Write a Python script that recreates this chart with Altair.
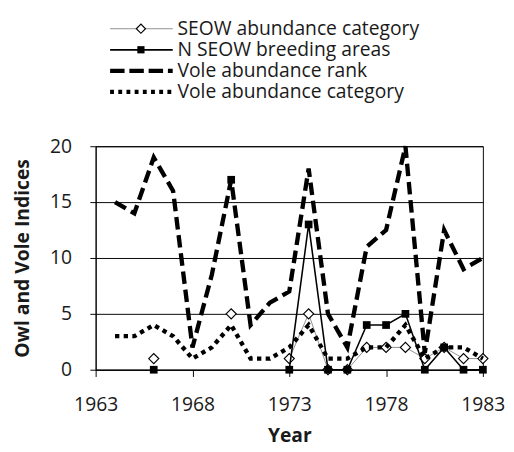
import altair as alt
import pandas as pd

# ---- data ----
years = list(range(1963, 1984))
seow_cat = [None, None, None, 1, None, None, None, 5, None, None, 1, 5, 0, 0, 2, 2, 2, 1, 2, 1, 1]
n_seow = [None, None, None, 0, None, None, None, 17, None, None, 0, 13, 0, 0, 4, 4, 5, 0, 2, 0, 0]
vole_rank = [None, 15, 14, 19, 16, 2, 8.5, 17, 4, 6, 7, 18, 5, 2, 11, 12.5, 20, 1.5, 12.5, 9, 10]
vole_cat = [None, 3, 3, 4, 3, 1, 2, 4, 1, 1, 2, 4, 1, 1, 2, 2, 4, 1, 2, 2, 1]
series_names = ["SEOW abundance category", "N SEOW breeding areas",
                "Vole abundance rank", "Vole abundance category"]
x_ticks = [1963, 1968, 1973, 1978, 1983]
y_ticks = [0, 5, 10, 15, 20]

FONT = "Open Sans"
TXT = "#1a1a1a"


def frame(vals):
    return pd.DataFrame({"year": years, "value": vals})


x = alt.X("year:Q",
          scale=alt.Scale(domain=[1963, 1983], nice=False, zero=False),
          axis=alt.Axis(values=x_ticks, format="d", title="Year", grid=False,
                        labelFlush=False, tickSize=7, labelPadding=19, titlePadding=13))
y = alt.Y("value:Q",
          scale=alt.Scale(domain=[0, 20], nice=False),
          axis=alt.Axis(values=y_ticks, title="Owl and Vole Indices", grid=True,
                        labelFlush=False, tickSize=6, labelPadding=19, titlePadding=18))

brk = "break-paths-filter-domains"

seow_line = alt.Chart(frame(seow_cat)).mark_line(
    color="#8c8c8c", strokeWidth=1, invalid=brk).encode(x=x, y=y)
seow_pts = alt.Chart(frame(seow_cat)).mark_point(
    shape="diamond", filled=True, fill="white", stroke="black",
    strokeWidth=1.2, size=110, opacity=1).encode(x=x, y=y)
nseow_line = alt.Chart(frame(n_seow)).mark_line(
    color="black", strokeWidth=1.6, invalid=brk).encode(x=x, y=y)
nseow_pts = alt.Chart(frame(n_seow)).mark_point(
    shape="square", filled=True, color="black", size=64, opacity=1).encode(x=x, y=y)
rank_line = alt.Chart(frame(vole_rank)).mark_line(
    color="black", strokeWidth=4.5, strokeDash=[13, 6], strokeCap="butt",
    invalid=brk).encode(x=x, y=y)
cat_line = alt.Chart(frame(vole_cat)).mark_line(
    color="black", strokeWidth=4.5, strokeDash=[4.5, 4.5], strokeCap="butt",
    invalid=brk).encode(x=x, y=y)

main = alt.layer(seow_line, seow_pts, nseow_line, nseow_pts, rank_line, cat_line).properties(
    width=402, height=232,
    view=alt.ViewBackground(stroke="black", strokeWidth=1))

# ---- legend panel ----
leg_df = pd.DataFrame({"name": series_names, "i": list(range(len(series_names)))})
ly = alt.Y("i:Q", scale=alt.Scale(domain=[0, 3], range=[12, 77.5]), axis=None)


def leg(k):
    return alt.Chart(leg_df).transform_filter(alt.datum.i == k)


leg_layers = [
    leg(0).mark_rule(color="#8c8c8c", strokeWidth=1).encode(
        x=alt.value(15), x2=alt.value(80), y=ly),
    leg(0).mark_point(shape="diamond", filled=True, fill="white", stroke="black",
                      strokeWidth=1.2, size=90, opacity=1).encode(x=alt.value(47), y=ly),
    leg(1).mark_rule(color="black", strokeWidth=1.8).encode(
        x=alt.value(15), x2=alt.value(80), y=ly),
    leg(1).mark_point(shape="square", filled=True, color="black", size=56,
                      opacity=1).encode(x=alt.value(47), y=ly),
    leg(2).mark_rule(color="black", strokeWidth=4.5, strokeDash=[15, 5],
                     strokeCap="butt").encode(x=alt.value(15), x2=alt.value(80), y=ly),
    leg(3).mark_rule(color="black", strokeWidth=4.5, strokeDash=[4, 4.5],
                     strokeCap="butt").encode(x=alt.value(15), x2=alt.value(80), y=ly),
    alt.Chart(leg_df).mark_text(align="left", baseline="middle", font=FONT,
                                fontSize=20, color=TXT).encode(
        x=alt.value(85), y=ly, text="name:N"),
]

legend = alt.layer(*leg_layers).properties(
    width=402, height=120,
    view=alt.ViewBackground(stroke="transparent"))

chart = alt.vconcat(
    legend, main, spacing=2,
    padding={"left": 4, "top": 0, "right": 0, "bottom": 0},
).configure_axis(
    labelFont=FONT, labelFontSize=20, labelColor=TXT,
    titleFont=FONT, titleFontSize=20, titleFontWeight="bold", titleColor=TXT,
    domainColor="black", domainWidth=1, tickColor="black", tickWidth=1,
    gridColor="black", gridWidth=1, gridOpacity=1,
)

chart.save("out.html", embed_options={"renderer": "svg", "actions": False})
